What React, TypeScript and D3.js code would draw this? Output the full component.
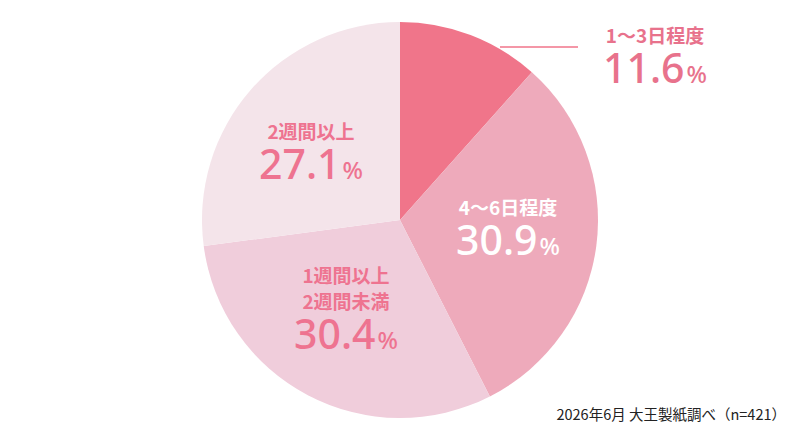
import React from 'react';
import * as d3 from 'd3';

const categories = ['1〜3日程度', '4〜6日程度', '1週間以上\n2週間未満', '2週間以上'];
const values = [11.6, 30.9, 30.4, 27.1];
const sliceColors = ['#f0758a', '#eeaabb', '#f0cddb', '#f4e4ea'];
const labelColors = ['#e8728c', '#ffffff', '#ee7390', '#ee7390'];
const footnote = '2026年6月 大王製紙調べ（n=421）';

const W = 800;
const H = 440;
const cx = 400;
const cy = 220;
const R = 198;

// label anchor positions (center x, first line baseline)
const labelPos: [number, number][] = [
  [655, 43],
  [508, 215],
  [346, 283],
  [311, 139],
];

const App: React.FC = () => {
  const pie = d3.pie<number>().sort(null).value(d => d);
  const arcs = pie(values);
  const arc = d3.arc<d3.PieArcDatum<number>>().innerRadius(0).outerRadius(R);
  const jp = '"Noto Sans CJK JP", "Noto Sans", sans-serif';
  const num = '"Noto Sans", Roboto, sans-serif';

  return (
    <svg width={W} height={H} style={{ position: 'absolute', left: 0, top: 0 }}>
      <rect width={W} height={H} fill="#ffffff" />
      <g transform={`translate(${cx},${cy})`}>
        {arcs.map((a, i) => (
          <path key={i} d={arc(a) || ''} fill={sliceColors[i]} />
        ))}
      </g>
      <line x1={500} y1={47} x2={578} y2={47} stroke="#f0758a" strokeWidth={1.5} />
      {categories.map((c, i) => {
        const [x, y] = labelPos[i];
        const lines = c.split('\n');
        const numY = y + (lines.length - 1) * 26 + 40;
        return (
          <g key={i} fill={labelColors[i]} textAnchor="middle">
            {lines.map((l, j) => (
              <text key={j} x={x} y={y + j * 26} fontFamily={jp} fontWeight={700} fontSize={19}>
                {l}
              </text>
            ))}
            <text x={x} y={numY} fontFamily={num} fontWeight={500} fontSize={41}>
              {values[i].toFixed(1)}
              <tspan fontSize={24} dx={2}>%</tspan>
            </text>
          </g>
        );
      })}
      <text x={786} y={420} textAnchor="end" fontFamily={jp} fontSize={14.5} fill="#222">
        {footnote}
      </text>
    </svg>
  );
};

export default App;
